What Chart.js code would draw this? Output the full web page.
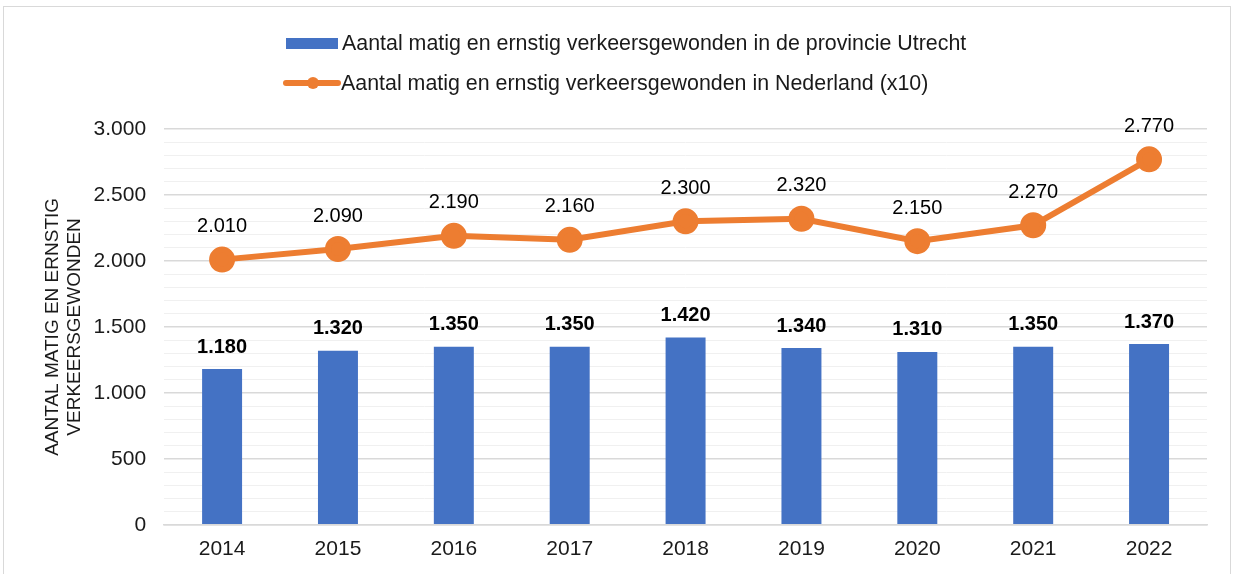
<!DOCTYPE html>
<html>
<head>
<meta charset="utf-8">
<script src="https://cdn.jsdelivr.net/npm/chart.js@4"></script>
<style>
  html,body{margin:0;padding:0;background:#fff;}
  body{width:1235px;height:574px;position:relative;overflow:hidden;font-family:"Liberation Sans",Arial,sans-serif;}
  .frame{position:absolute;left:3px;top:6px;width:1228px;height:600px;border:1.5px solid #d9d9d9;box-sizing:border-box;}
  .legend{position:absolute;left:286px;top:23px;font-size:21.4px;color:#1a1a1a;}
  .legend .row{height:40px;display:flex;align-items:center;}
  .sw-bar{width:52px;height:11px;background:#4472C4;margin-right:4px;}
  .sw-line{width:58px;height:6px;background:#ED7D31;border-radius:3px;position:relative;margin-right:0;margin-left:-3px;}
  .sw-line:after{content:"";position:absolute;left:24px;top:-3px;width:12px;height:12px;border-radius:50%;background:#ED7D31;}
  #wrap{position:absolute;left:0;top:0;width:1235px;height:574px;}
</style>
</head>
<body>
<div class="frame"></div>
<div id="wrap"><canvas id="c" width="1235" height="574"></canvas></div>
<div class="legend">
  <div class="row"><div class="sw-bar"></div><span id="lg0"></span></div>
  <div class="row"><div class="sw-line"></div><span id="lg1"></span></div>
</div>
<script>
const years = ['2014','2015','2016','2017','2018','2019','2020','2021','2022'];
const utrecht = [1180,1320,1350,1350,1420,1340,1310,1350,1370];
const nederlandX10 = [2010,2090,2190,2160,2300,2320,2150,2270,2770];
const seriesNames = ['Aantal matig en ernstig verkeersgewonden in de provincie Utrecht','Aantal matig en ernstig verkeersgewonden in Nederland (x10)'];
const yTitle = ['AANTAL MATIG EN ERNSTIG','VERKEERSGEWONDEN'];

document.getElementById('lg0').textContent = seriesNames[0];
document.getElementById('lg1').textContent = seriesNames[1];

const fmt = v => String(v).replace(/\B(?=(\d{3})+(?!\d))/g, '.');
const FONT = '"Liberation Sans", Arial, sans-serif';

const labelPlugin = {
  id:'valueLabels',
  afterDatasetsDraw(chart){
    const ctx = chart.ctx;
    chart.data.datasets.forEach((ds,i)=>{
      const meta = chart.getDatasetMeta(i);
      meta.data.forEach((el,j)=>{
        ctx.save();
        ctx.textAlign='center';
        ctx.textBaseline='middle';
        ctx.fillStyle='#000';
        if(ds.type==='line'){
          ctx.font='20px '+FONT;
          ctx.fillText(fmt(ds.data[j]), el.x, el.y-33);
        }else{
          ctx.font='bold 20px '+FONT;
          ctx.fillText(fmt(ds.data[j]), el.x, el.y-22);
        }
        ctx.restore();
      });
    });
  }
};

new Chart(document.getElementById('c'), {
  type:'bar',
  data:{
    labels:years,
    datasets:[
      { type:'line', label:seriesNames[1], data:nederlandX10, borderColor:'#ED7D31', backgroundColor:'#ED7D31',
        borderWidth:6, pointRadius:10, pointHoverRadius:10, tension:0, order:0 },
      { label:seriesNames[0], data:utrecht, backgroundColor:'#4472C4', barPercentage:0.345, categoryPercentage:1, order:1 }
    ]
  },
  options:{
    responsive:false,
    animation:false,
    layout:{padding:{top:129,left:30,right:28,bottom:8}},
    plugins:{legend:{display:false},tooltip:{enabled:false}},
    scales:{
      x:{
        grid:{display:false},
        border:{color:'#d9d9d9',width:1.5},
        ticks:{color:'#1a1a1a',font:{family:FONT,size:21},padding:4}
      },
      y:{
        min:0,max:3000,
        border:{display:false},
        ticks:{stepSize:100,autoSkip:false,color:'#1a1a1a',font:{family:FONT,size:21},padding:18,
          callback:v=> v%500===0 ? fmt(v) : ''},
        grid:{drawTicks:false,
          color:c=> c.tick && c.tick.value%500===0 ? '#d9d9d9' : '#f0f0f0',
          lineWidth:c=> c.tick && c.tick.value%500===0 ? 1.5 : 1},
        title:{display:true,text:yTitle,color:'#1a1a1a',font:{family:FONT,size:19},padding:{top:11,bottom:-11}}
      }
    }
  },
  plugins:[labelPlugin]
});
</script>
</body>
</html>
